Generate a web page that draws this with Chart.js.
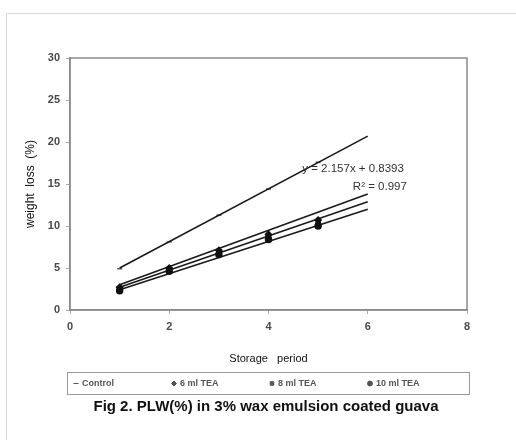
<!DOCTYPE html>
<html>
<head>
<meta charset="utf-8">
<script src="https://cdn.jsdelivr.net/npm/chart.js@4.4.0/dist/chart.umd.min.js"></script>
<style>
  html, body { margin: 0; padding: 0; background: #fff; }
  #wrap { width: 516px; height: 443px; position: relative; }
</style>
</head>
<body>
<div id="wrap"><canvas id="chart" width="516" height="443"></canvas></div>
<script>
// data
const periods = [1, 2, 3, 4, 5]
const seriesNames = ['Control', '6 ml TEA', '8 ml TEA', '10 ml TEA']
const control = [4.9, 8.1, 11.3, 14.4, 17.6]
const tea6 = [2.7, 5.0, 7.1, 9.0, 10.7]
const tea8 = [2.5, 4.8, 6.9, 8.7, 10.3]
const tea10 = [2.3, 4.6, 6.6, 8.4, 10.0]

// linear trend lines, start and end as seen on the figure
const trendX = [1, 6]
const controlTrend = [5.0, 20.7]
const tea6Trend = [3.0, 13.8]
const tea8Trend = [2.7, 12.9]
const tea10Trend = [2.4, 12.0]

const xTicks = [0, 2, 4, 6, 8]
const yTicks = [0, 5, 10, 15, 20, 25, 30]
const equationText = ['y = 2.157x + 0.8393', 'R\u00b2 = 0.997']

function pts(xs, ys) {
  return xs.map((x, i) => ({ x: x, y: ys[i] }))
}

const pointStyles = ['line', 'rectRot', 'rect', 'circle']
const seriesData = [control, tea6, tea8, tea10]
const trendData = [controlTrend, tea6Trend, tea8Trend, tea10Trend]

var datasets = []
seriesData.forEach(function (s, i) {
  datasets.push({
    label: seriesNames[i],
    data: pts(periods, s),
    showLine: false,
    pointStyle: pointStyles[i],
    pointRadius: i == 0 ? 2.5 : 3,
    borderColor: '#111',
    backgroundColor: '#111',
    borderWidth: i == 0 ? 1 : 1.5
  })
})
trendData.forEach(function (t, i) {
  datasets.push({
    label: 'trend' + i,
    data: pts(trendX, t),
    showLine: true,
    pointRadius: 0,
    borderColor: '#1a1a1a',
    borderWidth: 1.6,
    fill: false
  })
})

const frame = {
  id: 'frame',
  beforeDraw(chart) {
    const c = chart.ctx
    c.save()
    c.strokeStyle = '#d8d8d8'
    c.lineWidth = 1
    c.beginPath()
    c.moveTo(6.5, 440)
    c.lineTo(6.5, 13.5)
    c.lineTo(516, 13.5)
    c.stroke()
    c.restore()
  },
  afterDraw(chart) {
    const c = chart.ctx
    const a = chart.chartArea
    c.save()
    c.strokeStyle = '#8a8a8a'
    c.lineWidth = 1.5
    c.strokeRect(a.left, a.top, a.right - a.left, a.bottom - a.top)

    // legend box under the axis title
    const top = a.bottom + 62
    c.strokeStyle = '#9a9a9a'
    c.lineWidth = 1
    c.strokeRect(a.left - 2.5, top + 0.5, a.right - a.left + 5, 22)
    c.font = 'bold 9px "Liberation Sans", Arial, sans-serif'
    c.textBaseline = 'middle'
    for (let i = 0; i < 4; i++) {
      const ds = chart.data.datasets[i]
      const mx = a.left + 6 + i * 98
      const my = top + 11.5
      c.fillStyle = '#555'
      c.strokeStyle = '#555'
      Chart.helpers.drawPoint(c, {
        pointStyle: ds.pointStyle, radius: 2.5, borderWidth: 1
      }, mx, my)
      c.fillStyle = '#555'
      c.fillText(ds.label, mx + 6, my)
    }

    // equation label
    const xs = chart.scales.x, ys = chart.scales.y
    c.fillStyle = '#333'
    c.font = '11.5px "Liberation Sans", Arial, sans-serif'
    c.fillText(equationText[0], xs.getPixelForValue(4.68), ys.getPixelForValue(16.8))
    c.fillText(equationText[1], xs.getPixelForValue(5.7), ys.getPixelForValue(14.7))
    c.restore()
  }
}

new Chart(document.getElementById('chart'), {
  type: 'scatter',
  data: { datasets: datasets },
  plugins: [frame],
  options: {
    responsive: false,
    animation: false,
    devicePixelRatio: 1,
    layout: { padding: { left: 16, right: 0, top: 58, bottom: 27 } },
    scales: {
      x: {
        type: 'linear', min: 0, max: 8,
        afterBuildTicks: s => { s.ticks = xTicks.map(v => ({ value: v })) },
        afterFit: s => { s.height = 60 },
        grid: { drawOnChartArea: false, tickLength: 4, color: '#aaa' },
        border: { color: '#8a8a8a', width: 1.5 },
        ticks: { color: '#4a4a4a', font: { size: 11, family: 'Liberation Sans', weight: 'bold' }, padding: 6 },
        title: { display: true, text: 'Storage   period', color: '#111',
                 font: { size: 11, family: 'Liberation Sans' }, padding: { top: 14 } }
      },
      y: {
        min: 0, max: 30,
        afterBuildTicks: s => { s.ticks = yTicks.map(v => ({ value: v })) },
        afterFit: s => { s.width = 54 },
        grid: { drawOnChartArea: false, tickLength: 4, color: '#aaa' },
        border: { color: '#8a8a8a', width: 1.5 },
        ticks: { color: '#4a4a4a', font: { size: 11, family: 'Liberation Sans', weight: 'bold' }, padding: 6 },
        title: { display: true, text: 'weight  loss  (%)', color: '#111',
                 font: { size: 12, family: 'Liberation Sans' }, padding: { top: 7, bottom: 0 } }
      },
      // empty right margin so the bottom title centres like the original
      y2: {
        position: 'right', min: 0, max: 30,
        afterFit: s => { s.width = 49 },
        grid: { display: false },
        border: { display: false },
        ticks: { display: false }
      }
    },
    plugins: {
      tooltip: { enabled: false },
      legend: { display: false },
      title: {
        display: true,
        position: 'bottom',
        text: 'Fig 2. PLW(%) in 3% wax emulsion coated guava',
        color: '#111',
        font: { size: 15, family: 'Liberation Sans', weight: 'bold' },
        padding: { top: 28, bottom: 0 }
      }
    }
  }
})
</script>
</body>
</html>
